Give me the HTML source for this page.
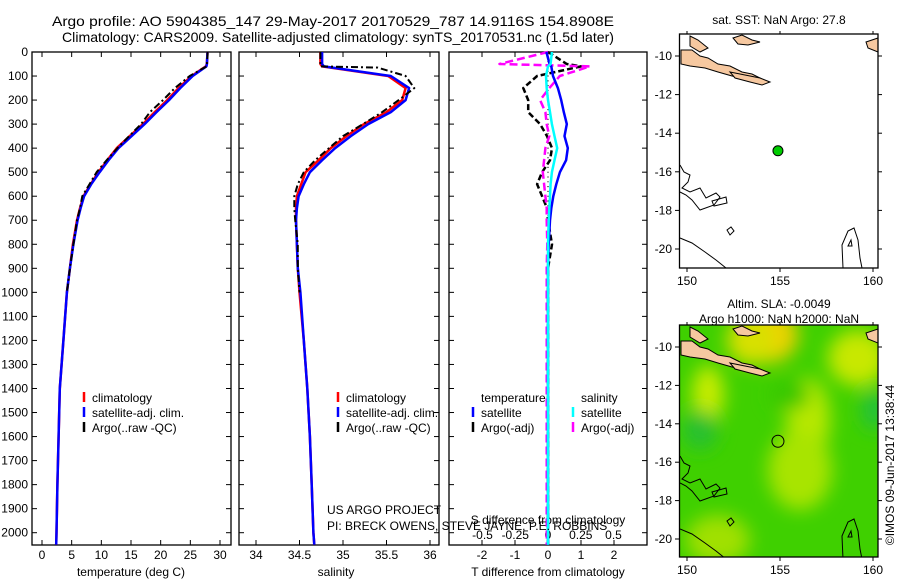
<!DOCTYPE html>
<html><head><meta charset="utf-8"><style>
html,body{margin:0;padding:0;background:#fff;}
svg{display:block;font-family:"Liberation Sans",sans-serif;}
text{font-size:12px;fill:#000;}
</style></head><body>
<svg id="fig" width="900" height="580" viewBox="0 0 900 580" xmlns="http://www.w3.org/2000/svg">
<defs>
<filter id="blur" x="-50%" y="-50%" width="200%" height="200%"><feGaussianBlur stdDeviation="9"/></filter>
<clipPath id="m2clip"><rect x="680" y="325" width="198" height="232"/></clipPath>
</defs>
<text x="52" y="26" textLength="562" lengthAdjust="spacingAndGlyphs" style="font-size:14px">Argo profile: AO 5904385_147 29-May-2017 20170529_787 14.9116S 154.8908E</text>
<text x="62" y="42" textLength="552" lengthAdjust="spacingAndGlyphs" style="font-size:14px">Climatology: CARS2009. Satellite-adjusted climatology: synTS_20170531.nc (1.5d later)</text>
<g id="g"></g>
</svg>
<script>
// ---- data ----
const depths = [0,50,60,100,150,200,250,300,350,400,450,500,550,600,650,700,800,900,1000,1200,1400,1600,1800,2000,2050];
const tempClim = [27.9,27.8,27.6,25.2,23.0,21.1,19.0,17.0,14.8,12.6,11.0,9.5,8.2,7.0,6.4,5.9,5.2,4.7,4.2,3.6,3.0,2.8,2.6,2.45,2.4];
const tempSat  = [27.9,27.8,27.7,25.4,23.3,21.4,19.3,17.3,15.1,12.9,11.2,9.7,8.3,7.1,6.5,6.0,5.3,4.7,4.2,3.6,3.0,2.8,2.6,2.45,2.4];
const argoTempDepths = [0,20,40,60,70,100,150,200,250,300,350,400,450,500,550,600,650,700,800,900,1000];
const tempArgo = [27.9,27.9,27.8,27.8,27.0,24.9,22.4,20.4,18.2,16.7,14.7,12.7,10.9,9.2,8.0,6.8,6.4,5.9,5.3,4.7,4.2];
const salClim = [34.74,34.74,34.76,35.52,35.72,35.68,35.5,35.24,35.04,34.86,34.72,34.57,34.52,34.47,34.46,34.46,34.47,34.48,34.5,34.55,34.59,34.62,34.64,34.66,34.67];
const salSat  = [34.76,34.76,34.78,35.55,35.76,35.72,35.55,35.29,35.09,34.91,34.76,34.62,34.55,34.49,34.47,34.46,34.47,34.48,34.51,34.55,34.59,34.62,34.64,34.66,34.67];
const argoSalDepths = [0,20,40,60,65,100,150,200,250,300,350,400,450,500,550,600,650,700,800,900,1000];
const salArgo = [34.74,34.74,34.74,34.74,35.4,35.72,35.82,35.64,35.45,35.23,35.0,34.84,34.68,34.55,34.48,34.44,34.44,34.45,34.48,34.48,34.5];
const diffDepths = [0,50,60,100,150,200,250,300,350,400,450,500,550,600,650,700,800,900,1000,1500,2050];
const tDiffSat  = [-0.05,0.05,0.1,0.15,0.3,0.4,0.48,0.57,0.5,0.6,0.55,0.36,0.25,0.16,0.1,0.06,0.02,0.0,0.0,0.0,0.0];
const sDiffSat  = [0.03,0.02,0.0,-0.015,-0.01,0.0,0.015,0.03,0.05,0.07,0.05,0.03,0.02,0.015,0.01,0.005,0.0,0.0,0.0,0.0,0.0];
const tDiffArgo = [0.0,0.57,1.0,-0.33,-0.75,-0.6,-0.6,-0.24,-0.03,0.12,0.06,-0.18,-0.33,-0.18,-0.03,0.0,0.12,0.0,0.0,0.0,0.0];
const sDiffArgo = [0.0,-0.37,0.32,0.09,0.01,-0.06,-0.02,-0.01,0.01,-0.02,-0.03,-0.04,-0.03,-0.02,-0.01,-0.01,-0.005,-0.01,-0.01,-0.01,-0.01];
const depthTicks = [0,100,200,300,400,500,600,700,800,900,1000,1100,1200,1300,1400,1500,1600,1700,1800,1900,2000];
const tempTicks = [0,5,10,15,20,25,30];
const salTicks = [34,34.5,35,35.5,36];
const tdTicks = [-2,-1,0,1,2];
const sdTicks = [-0.5,-0.25,0,0.25,0.5];
const lonTicks = [150,155,160];
const latTicks = [-10,-12,-14,-16,-18,-20];
const argoLon = [154.89], argoLat = [-14.91];

const NS="http://www.w3.org/2000/svg";
const G=document.getElementById('g');
function mk(tag,attrs,parent){const e=document.createElementNS(NS,tag);for(const k in attrs)e.setAttribute(k,attrs[k]);(parent||G).appendChild(e);return e;}
const B=545, Y0=52, Y2000=532.7;
const yD = d => Y0 + d*(Y2000-Y0)/2000;
const xT = v => 42 + v*(220-42)/30;
const xS = v => 256 + (v-34)*(430-256)/2;
const xTd = v => 548 + v*33;
const xSd = v => 548 + v*131;
const P1={l:32,r:231}, P2={l:239,r:439}, P3={l:449,r:647};

function panel(p,name){
  const r=mk('rect',{x:p.l,y:Y0,width:p.r-p.l,height:B-Y0,fill:'none',stroke:'#000','stroke-width':1.3});
  
  
  depthTicks.forEach(d=>{
    mk('line',{x1:p.l,x2:p.l+5,y1:yD(d),y2:yD(d),stroke:'#000'});
    mk('line',{x1:p.r,x2:p.r-5,y1:yD(d),y2:yD(d),stroke:'#000'});
  });
}
function xticks(p,ticks,fx,y,nm){
  ticks.forEach((t)=>{
    mk('line',{x1:fx(t),x2:fx(t),y1:B,y2:B-5,stroke:'#000'});
    mk('line',{x1:fx(t),x2:fx(t),y1:Y0,y2:Y0+5,stroke:'#000'});
    const tx=mk('text',{x:fx(t),y:y,'text-anchor':'middle'});
    tx.textContent=String(t);
    
    
  });
}
function line(xs,ds,fx,color,w,dash,name){
  const pts=xs.map((v,i)=>fx(v).toFixed(1)+','+yD(ds[i]).toFixed(1)).join(' ');
  const a={points:pts,fill:'none',stroke:color,'stroke-width':w,'stroke-linejoin':'round'};
  if(dash)a['stroke-dasharray']=dash;
  const e=mk('polyline',a);
  
  
}
function txt(x,y,s,name,extra){const e=mk('text',Object.assign({x:x,y:y},extra||{}));e.textContent=s;return e;}
function legend(x,y,items,pfx){
  items.forEach((it,i)=>{
    mk('line',{x1:x,x2:x,y1:y+i*15-10,y2:y+i*15,stroke:it[1],'stroke-width':2.5});
    txt(x+8,y+i*15,it[0],pfx+'-legend-entry');
  });
}

depthTicks.forEach(d=>txt(28,yD(d)+4,String(d),'depth-tick-label',{'text-anchor':'end'}));

panel(P1,'temperature-panel');
xticks(P1,tempTicks,xT,559,'temperature');
txt(131,576,'temperature (deg C)','temperature-axis-title',{'text-anchor':'middle'});
line(tempClim,depths,xT,'#f00',2.5,null,'temp-climatology-line');
line(tempSat,depths,xT,'#00f',2.5,null,'temp-satellite-line');
line(tempArgo,argoTempDepths,xT,'#000',2,'7,3,2,3','temp-argo-line');
legend(84,402,[['climatology','#f00'],['satellite-adj. clim.','#00f'],['Argo(..raw -QC)','#000']],'temp');

panel(P2,'salinity-panel');
xticks(P2,salTicks,xS,559,'salinity');
txt(336,576,'salinity','salinity-axis-title',{'text-anchor':'middle'});
line(salClim,depths,xS,'#f00',2.5,null,'sal-climatology-line');
line(salSat,depths,xS,'#00f',2.5,null,'sal-satellite-line');
line(salArgo,argoSalDepths,xS,'#000',2,'7,3,2,3','sal-argo-line');
legend(338,402,[['climatology','#f00'],['satellite-adj. clim.','#00f'],['Argo(..raw -QC)','#000']],'sal');

panel(P3,'difference-panel');
xticks(P3,tdTicks,xTd,559,'t-difference');
txt(548,576,'T difference from climatology','t-difference-axis-title',{'text-anchor':'middle'});
sdTicks.forEach(t=>txt(xSd(t),539,String(t),'s-difference-tick-label',{'text-anchor':'middle'}));
txt(548,524,'S difference from climatology','s-difference-axis-title',{'text-anchor':'middle'});
for(let d=0;d<=1000;d+=20) mk('circle',{cx:548,cy:yD(d),r:0.6,fill:'#000'});
line(tDiffArgo,diffDepths,xTd,'#000',2.5,'6,3','tdiff-argo-line');
line(sDiffArgo,diffDepths,xSd,'#f0f',2.5,'8,4','sdiff-argo-line');
line(tDiffSat,diffDepths,xTd,'#00f',2.5,null,'tdiff-satellite-line');
line(sDiffSat,diffDepths,xSd,'#0ff',2.5,null,'sdiff-satellite-line');
legend(473,402,[['temperature','none'],['satellite','#00f'],['Argo(-adj)','#000']],'tdiff');
legend(573,402,[['salinity','none'],['satellite','#0ff'],['Argo(-adj)','#f0f']],'sdiff');
txt(327,514,'US ARGO PROJECT','credit-project');
txt(327,530,'PI: BRECK OWENS, STEVE JAYNE, P.E. ROBBINS','credit-pi');

const xL = v => 687 + (v-150)*18.6;
function mapAxes(top,bot,yL,name){
  const r=mk('rect',{x:679.5,y:top,width:198.5,height:bot-top,fill:'none',stroke:'#000','stroke-width':1.3});
  
  
  lonTicks.forEach(t=>{mk('line',{x1:xL(t),x2:xL(t),y1:bot,y2:bot+4,stroke:'#000'});mk('line',{x1:xL(t),x2:xL(t),y1:top,y2:top-3,stroke:'#000'});txt(xL(t),bot+17,String(t),name+'-lon-label',{'text-anchor':'middle'});});
  latTicks.forEach(t=>{mk('line',{x1:679,x2:675,y1:yL(t),y2:yL(t),stroke:'#000'});mk('line',{x1:878,x2:882,y1:yL(t),y2:yL(t),stroke:'#000'});txt(672,yL(t)+4,String(t),name+'-lat-label',{'text-anchor':'end'});});
}
function coast(ox,oy,grp){
  const paths=[
   'M681,50 L692,50 L700,56 L708,58 L718,64 L730,66 L742,72 L752,74 L760,78 L748,79 L732,76 L718,72 L705,68 L690,66 L681,64 Z',
   'M690,36 L698,40 L708,48 L700,52 L690,46 Z',
   'M733,38 L742,35 L752,40 L760,42 L748,45 L738,44 Z',
   'M730,72 L760,78 L770,82 L762,85 L750,82 L735,78 Z',
   'M866,42 L878,38 L878,52 L868,48 Z',
   'M680,165 L684,172 L690,175 L688,182 L682,188 L690,192 L700,188 L706,198 L716,193 L720,197 L714,205 L700,210 L692,200 L686,195 L680,192',
   'M712,201 L726,197 L727,203 L714,206 Z',
   'M727,230 L731,227 L734,231 L730,235 Z',
   'M680,238 L692,243 L705,252 L716,260 L726,268',
   'M843,268 L842,245 L848,231 L854,228 L858,240 L860,258 L862,268',
   'M848,246 L851,240 L852,246 Z'];
  paths.forEach((d,i)=>{mk('path',{d:d,fill:(i<5)?'#f6c8a0':'none',stroke:'#000','stroke-width':1,transform:'translate('+ox+','+oy+')'},grp);});
}
const yLat1 = v => 56 + (-10-v)*19.3;
txt(779,24,'sat. SST: NaN Argo: 27.8','sst-map-title',{'text-anchor':'middle'});
coast(0,0,G);
mapAxes(34,268,yLat1,'sst-map');
argoLon.forEach((lo,i)=>{const c=mk('circle',{cx:xL(lo),cy:yLat1(argoLat[i]),r:5,fill:'#0c0',stroke:'#000'});});

const yLat2 = v => 347 + (-10-v)*19.2;
txt(779,308,'Altim. SLA: -0.0049','sla-map-title-1',{'text-anchor':'middle'});
txt(779,323,'Argo h1000: NaN h2000: NaN','sla-map-title-2',{'text-anchor':'middle'});
const hm=mk('g',{'clip-path':'url(#m2clip)'});


mk('rect',{x:680,y:325,width:198,height:232,fill:'#3fd000'},hm);
const bl=mk('g',{filter:'url(#blur)'},hm);
[[768,335,30,28,'#f0d000'],[752,340,25,25,'#d8e000'],[858,358,30,28,'#c8e800'],[708,395,16,30,'#c8ec00'],[808,420,22,42,'#b8e800'],[800,470,32,40,'#a8e400'],[718,540,32,25,'#a0e000'],[700,430,18,20,'#28c030'],[874,410,12,20,'#20c040'],[790,395,20,15,'#38c800']].forEach(b=>mk('ellipse',{cx:b[0],cy:b[1],rx:b[2],ry:b[3],fill:b[4]},bl));
coast(0,291,hm);
mapAxes(325,557,yLat2,'sla-map');
argoLon.forEach((lo,i)=>{const c=mk('circle',{cx:xL(lo),cy:yLat2(argoLat[i]),r:6,fill:'none',stroke:'#000'});});
txt(0,0,'©IMOS 09-Jun-2017 13:38:44','timestamp-credit',{transform:'translate(894,465) rotate(-90)','text-anchor':'middle'});
</script>
</body></html>
